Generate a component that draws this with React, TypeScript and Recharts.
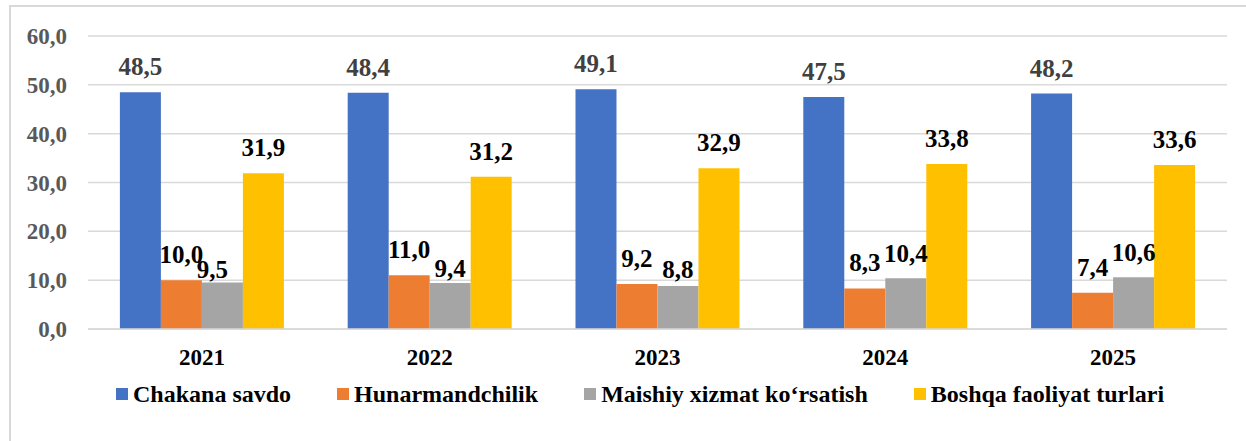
import React from 'react';
import { BarChart, Bar, XAxis, YAxis, CartesianGrid, LabelList, Legend } from 'recharts';

const categories = ['2021', '2022', '2023', '2024', '2025'];
const chakanaSavdo = [48.5, 48.4, 49.1, 47.5, 48.2];
const hunarmandchilik = [10.0, 11.0, 9.2, 8.3, 7.4];
const maishiyXizmat = [9.5, 9.4, 8.8, 10.4, 10.6];
const boshqaFaoliyat = [31.9, 31.2, 32.9, 33.8, 33.6];
const yTicks = [0, 10, 20, 30, 40, 50, 60];
const seriesNames = ['Chakana savdo', 'Hunarmandchilik', 'Maishiy xizmat ko‘rsatish', 'Boshqa faoliyat turlari'];

const data = categories.map((c, i) => ({
  year: c,
  s0: chakanaSavdo[i],
  s1: hunarmandchilik[i],
  s2: maishiyXizmat[i],
  s3: boshqaFaoliyat[i],
}));

const COLORS = ['#4472C4', '#ED7D31', '#A5A5A5', '#FFC000'];
const LABEL_COLORS = ['#404040', '#000000', '#000000', '#000000'];
const FONT = 'Liberation Serif';
const GRAY_GAPS = [5, 6, 8, 16, 16];
const GRAY_DX = [-10, 0, 0, 0, 0];

const fmt = (v: number) => v.toFixed(1).replace('.', ',');

const makeLabel = (si: number) => (props: any) => {
  const { x, y, width, value, index } = props;
  const gap = si === 2 ? GRAY_GAPS[index] : 17;
  const dx = si === 2 ? GRAY_DX[index] : 0;
  return (
    <text
      x={Number(x) + Number(width) / 2 + dx}
      y={Number(y) - gap}
      textAnchor="middle"
      fontFamily={FONT}
      fontWeight="bold"
      fontSize={25}
      fill={LABEL_COLORS[si]}
    >
      {fmt(Number(value))}
    </text>
  );
};

const renderLegend = () => (
  <div
    style={{
      display: 'flex',
      alignItems: 'center',
      height: 30,
      paddingLeft: 116,
      fontFamily: FONT,
      fontWeight: 'bold',
      fontSize: 24,
      color: '#000',
      whiteSpace: 'nowrap',
    }}
  >
    {seriesNames.map((n, i) => (
      <div key={n} style={{ display: 'flex', alignItems: 'center', marginRight: 46, fontFamily: FONT }}>
        <div style={{ width: 12, height: 12, background: COLORS[i], marginRight: 5 }} />
        <span style={{ fontFamily: FONT }}>{n}</span>
      </div>
    ))}
  </div>
);

export default function App() {
  return (
    <div style={{ position: 'absolute', left: 0, top: 0, width: 1246, height: 441, overflow: 'hidden', background: '#fff' }}>
      <div
        style={{
          position: 'absolute',
          left: 9,
          top: 5,
          width: 1300,
          height: 500,
          borderTop: '2px solid #d9d9d9',
          borderLeft: '2px solid #d9d9d9',
        }}
      />
      <div style={{ position: 'absolute', left: 0, top: 0 }}>
        <BarChart
          width={1246}
          height={441}
          data={data}
          margin={{ top: 36, right: 19, left: 0, bottom: 42 }}
          barCategoryGap="14%"
          barGap={0}
        >
          <CartesianGrid vertical={false} stroke="#d9d9d9" strokeWidth={1.5} />
          <XAxis
            dataKey="year"
            height={40}
            axisLine={{ stroke: '#d9d9d9', strokeWidth: 1.5 }}
            tickLine={false}
            tickSize={0}
            tickMargin={20}
            tick={{ fontFamily: FONT, fontWeight: 'bold', fontSize: 23, fill: '#000' }}
          />
          <YAxis
            width={88}
            domain={[0, 60]}
            ticks={yTicks}
            axisLine={false}
            tickLine={false}
            tickSize={0}
            tickMargin={21}
            tickFormatter={(v: number) => fmt(v)}
            tick={{ fontFamily: FONT, fontWeight: 'bold', fontSize: 23, fill: '#595959' }}
          />
          <Legend
            verticalAlign="bottom"
            content={renderLegend}
            wrapperStyle={{ left: 0, bottom: 32, width: 1246, height: 30 }}
          />
          {['s0', 's1', 's2', 's3'].map((k, i) => (
            <Bar key={k} dataKey={k} name={seriesNames[i]} fill={COLORS[i]} isAnimationActive={false}>
              <LabelList dataKey={k} content={makeLabel(i)} />
            </Bar>
          ))}
        </BarChart>
      </div>
    </div>
  );
}
